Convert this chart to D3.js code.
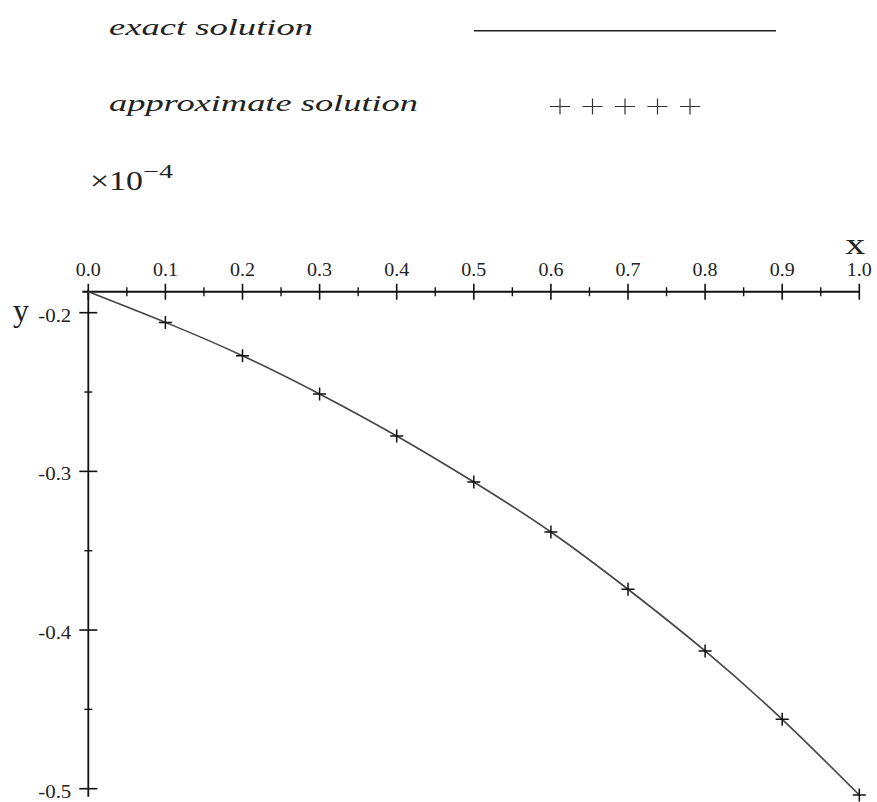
<!DOCTYPE html>
<html>
<head>
<meta charset="UTF-8">
<title>exact vs approximate solution</title>
<script src="https://d3js.org/d3.v7.min.js"></script>
<style>
    body { margin: 0; background: #fff; }
    svg { display: block; }
    .tick-label { font-family: "Liberation Serif", "Times New Roman", serif; fill: #222; }
    .legend-text { font-family: "Liberation Serif", "Times New Roman", serif; font-style: italic; fill: #222; }
</style>
</head>
<body>
<svg id="chart" width="877" height="802"></svg>
<script>
    // data (y values are in units of 1e-4)
    const xValues = [0.0, 0.1, 0.2, 0.3, 0.4, 0.5, 0.6, 0.7, 0.8, 0.9, 1.0];
    const exactValues = [-0.1868, -0.2061, -0.2271, -0.2512, -0.2777, -0.3067, -0.3382, -0.3743, -0.4132, -0.4563, -0.5040];
    const approxX = [0.1, 0.2, 0.3, 0.4, 0.5, 0.6, 0.7, 0.8, 0.9, 1.0];
    const approxValues = [-0.2061, -0.2271, -0.2512, -0.2777, -0.3067, -0.3382, -0.3743, -0.4132, -0.4563, -0.5040];

    const xTicks = [0.0, 0.1, 0.2, 0.3, 0.4, 0.5, 0.6, 0.7, 0.8, 0.9, 1.0];
    const xMinorTicks = [0.05, 0.15, 0.25, 0.35, 0.45, 0.55, 0.65, 0.75, 0.85, 0.95];
    const yTicks = [-0.2, -0.3, -0.4, -0.5];
    const yMinorTicks = [-0.25, -0.35, -0.45];
    const legendLabels = ["exact solution", "approximate solution"];

    const svg = d3.select("#chart");

    const x = d3.scaleLinear().domain([0, 1]).range([88.3, 859.3]);
    const y = d3.scaleLinear().domain([-0.2, -0.5]).range([312.7, 788.7]);

    const axisY = y(exactValues[0]);   // the x axis crosses at the start value
    const fmt = d => d3.format(".1f")(d).replace("\u2212", "-");

    // x axis
    svg.append("line")
        .attr("x1", x(0) - 6).attr("x2", x(1))
        .attr("y1", axisY).attr("y2", axisY)
        .attr("stroke", "#111").attr("stroke-width", 1.8);

    svg.selectAll(".xmajor").data(xTicks).enter().append("line")
        .attr("x1", d => x(d)).attr("x2", d => x(d))
        .attr("y1", axisY - 8).attr("y2", axisY + 8)
        .attr("stroke", "#111").attr("stroke-width", 1.6);

    svg.selectAll(".xminor").data(xMinorTicks).enter().append("line")
        .attr("x1", d => x(d)).attr("x2", d => x(d))
        .attr("y1", axisY - 4.5).attr("y2", axisY + 4.5)
        .attr("stroke", "#111").attr("stroke-width", 1.4);

    svg.selectAll(".xlabel").data(xTicks).enter().append("text")
        .attr("class", "tick-label")
        .attr("x", d => x(d)).attr("y", axisY - 16)
        .attr("text-anchor", "middle")
        .attr("font-size", 18)
        .attr("textLength", 25).attr("lengthAdjust", "spacingAndGlyphs")
        .text(d => fmt(d));

    svg.append("text")
        .attr("class", "tick-label")
        .attr("x", x(1) - 4).attr("y", 254)
        .attr("text-anchor", "middle")
        .attr("font-size", 30)
        .attr("textLength", 20).attr("lengthAdjust", "spacingAndGlyphs")
        .text("x");

    // y axis
    svg.append("line")
        .attr("x1", x(0)).attr("x2", x(0))
        .attr("y1", axisY - 2).attr("y2", y(-0.505))
        .attr("stroke", "#111").attr("stroke-width", 1.8);

    svg.selectAll(".ymajor").data(yTicks).enter().append("line")
        .attr("x1", x(0) - 9).attr("x2", x(0) + 9)
        .attr("y1", d => y(d)).attr("y2", d => y(d))
        .attr("stroke", "#111").attr("stroke-width", 1.6);

    svg.selectAll(".yminor").data(yMinorTicks).enter().append("line")
        .attr("x1", x(0) - 4).attr("x2", x(0) + 4)
        .attr("y1", d => y(d)).attr("y2", d => y(d))
        .attr("stroke", "#111").attr("stroke-width", 1.4);

    svg.selectAll(".ylabel").data(yTicks).enter().append("text")
        .attr("class", "tick-label")
        .attr("x", x(0) - 17).attr("y", d => y(d) + 9)
        .attr("text-anchor", "end")
        .attr("font-size", 18)
        .attr("textLength", 33).attr("lengthAdjust", "spacingAndGlyphs")
        .text(d => fmt(d));

    svg.append("text")
        .attr("class", "tick-label")
        .attr("x", 13).attr("y", 321)
        .attr("font-size", 32)
        .text("y");

    // exact solution curve
    const line = d3.line()
        .x((d, i) => x(xValues[i]))
        .y(d => y(d))
        .curve(d3.curveNatural);

    svg.append("path")
        .datum(exactValues)
        .attr("d", line)
        .attr("fill", "none")
        .attr("stroke", "#444")
        .attr("stroke-width", 1.6);

    // approximate solution markers
    const cross = (cx, cy, w, h) => `M${cx - w},${cy}H${cx + w}M${cx},${cy - h}V${cy + h}`;

    svg.selectAll(".approx").data(approxValues).enter().append("path")
        .attr("d", (d, i) => cross(x(approxX[i]), y(d), 6.5, 6.5))
        .attr("stroke", "#111")
        .attr("stroke-width", 1.5)
        .attr("fill", "none");

    // legend
    svg.append("text")
        .attr("class", "legend-text")
        .attr("x", 109).attr("y", 35)
        .attr("font-size", 24)
        .attr("textLength", 204).attr("lengthAdjust", "spacingAndGlyphs")
        .text(legendLabels[0]);

    svg.append("line")
        .attr("x1", 474).attr("x2", 776)
        .attr("y1", 30.7).attr("y2", 30.7)
        .attr("stroke", "#222").attr("stroke-width", 1.6);

    svg.append("text")
        .attr("class", "legend-text")
        .attr("x", 109).attr("y", 111)
        .attr("font-size", 24)
        .attr("textLength", 309).attr("lengthAdjust", "spacingAndGlyphs")
        .text(legendLabels[1]);

    svg.selectAll(".legend-cross").data(d3.range(5)).enter().append("path")
        .attr("d", i => cross(560 + i * 32.5, 106.5, 10, 8))
        .attr("stroke", "#333")
        .attr("stroke-width", 1.2)
        .attr("fill", "none");

    // scale factor
    svg.append("text")
        .attr("class", "tick-label")
        .attr("x", 90).attr("y", 190)
        .attr("font-size", 28)
        .attr("textLength", 53).attr("lengthAdjust", "spacingAndGlyphs")
        .text("\u00d710");

    svg.append("text")
        .attr("class", "tick-label")
        .attr("x", 143).attr("y", 178)
        .attr("font-size", 19)
        .attr("textLength", 30).attr("lengthAdjust", "spacingAndGlyphs")
        .text("\u22124");
</script>
</body>
</html>
